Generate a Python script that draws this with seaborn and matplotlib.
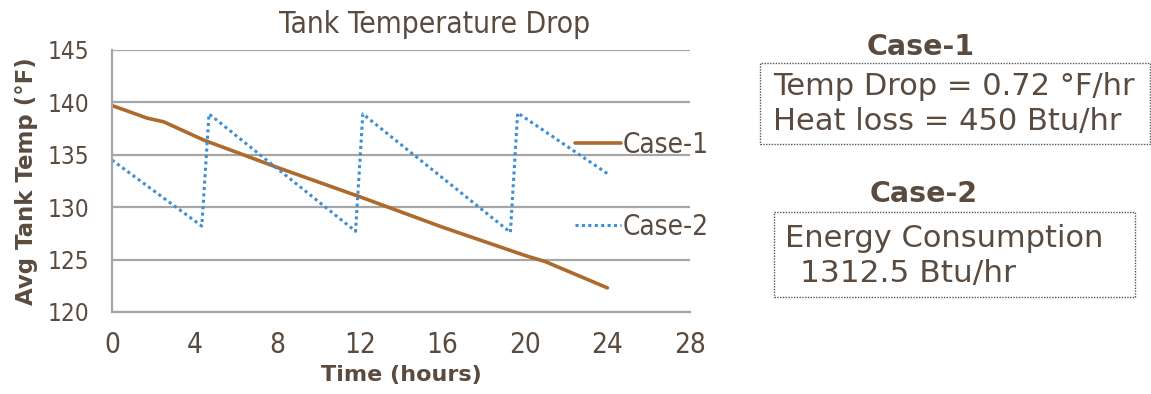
import matplotlib
matplotlib.use("Agg")
import matplotlib.pyplot as plt
import seaborn as sns
import pandas as pd
from matplotlib.patches import Rectangle

# ---- data ----
case1_t = [0, 1.0, 1.7, 2.5, 4.45, 8, 12, 16, 20, 21, 24]
case1_temp = [139.7, 139.0, 138.5, 138.15, 136.4, 133.8, 131.0, 128.1, 125.4, 124.8, 122.3]
case2_t = [0, 4.35, 4.7, 11.8, 12.15, 19.3, 19.65, 24]
case2_temp = [134.5, 128.2, 138.9, 127.7, 138.9, 127.6, 139.0, 133.2]
x_ticks = [0, 4, 8, 12, 16, 20, 24, 28]
y_ticks = [120, 125, 130, 135, 140, 145]

sns.set_theme(style="white")
plt.rcParams["font.family"] = ["DejaVu Sans"]

txt = "#5b4b3f"
grid_c = "#a6a6a6"
c1 = "#ad6a2b"
c2 = "#3b8fd4"
cond = dict(family="DejaVu Sans", stretch="condensed")

W, H = 1151, 394
L, R, T, B = 112, 690, 50, 312
fig = plt.figure(figsize=(W / 100, H / 100), dpi=100)
ax = fig.add_axes([L / W, 1 - B / H, (R - L) / W, (B - T) / H])

df1 = pd.DataFrame({"t": case1_t, "T": case1_temp})
df2 = pd.DataFrame({"t": case2_t, "T": case2_temp})
sns.lineplot(data=df1, x="t", y="T", ax=ax, color=c1, linewidth=2.6, label="Case-1")
sns.lineplot(data=df2, x="t", y="T", ax=ax, color=c2, linewidth=2.2,
             linestyle=(0, (1, 1.1)), label="Case-2")

ax.set_xlim(0, 28)
ax.set_ylim(120, 145)
ax.set_xticks(x_ticks)
ax.set_yticks(y_ticks)
ax.yaxis.grid(True, color=grid_c, linewidth=1.6)
ax.set_axisbelow(True)
for s in ["top", "right"]:
    ax.spines[s].set_visible(False)
for s in ["left", "bottom"]:
    ax.spines[s].set_color(grid_c)
    ax.spines[s].set_linewidth(1.6)
ax.tick_params(axis="y", direction="out", length=8, width=1.6, color=grid_c,
               labelcolor=txt, labelsize=17.5, pad=8.5)
ax.tick_params(axis="x", direction="out", length=5.5, width=1.6, color=grid_c,
               labelcolor=txt, labelsize=20, pad=8)
for lab in ax.get_xticklabels() + ax.get_yticklabels():
    lab.set_family("DejaVu Sans")
    lab.set_stretch("condensed")

# title
fig.text(435 / W, 1 - 33 / H, "Tank Temperature Drop", ha="center", va="baseline",
         fontsize=21.5, color=txt, **cond)

ax.set_xlabel("Time (hours)", fontsize=16, fontweight="bold", color=txt)
ax.xaxis.set_label_coords(0.5, (B - 365) / (B - T))
ax.set_ylabel("Avg Tank Temp (°F)", fontsize=16.5, fontweight="bold", color=txt)
ax.yaxis.set_label_coords((38 - L) / (R - L), 0.5)

leg = ax.legend(loc="upper left", bbox_to_anchor=(575 / W, 1 - 131 / H),
                bbox_transform=fig.transFigure, frameon=False, handlelength=1.65,
                handletextpad=0.08, labelspacing=1.95, borderpad=0, borderaxespad=0,
                prop={"family": "DejaVu Sans", "stretch": "condensed", "size": 20})
for t in leg.get_texts():
    t.set_color(txt)

# ---- right-side annotation boxes ----
fig.text(921 / W, 1 - 55 / H, "Case-1", ha="center", va="baseline", fontsize=20.5,
         fontweight="bold", color=txt)
fig.patches.append(Rectangle((760 / W, 1 - 144 / H), (1150 - 760) / W, (144 - 63) / H,
                             transform=fig.transFigure, fill=False, edgecolor="#555555",
                             linestyle=(0, (1, 1)), linewidth=1))
fig.text(773 / W, 1 - 95 / H, "Temp Drop = 0.72 °F/hr", ha="left", va="baseline",
         fontsize=22, color=txt)
fig.text(773 / W, 1 - 130 / H, "Heat loss = 450 Btu/hr", ha="left", va="baseline",
         fontsize=22, color=txt)

fig.text(924 / W, 1 - 202 / H, "Case-2", ha="center", va="baseline", fontsize=20.5,
         fontweight="bold", color=txt)
fig.patches.append(Rectangle((774 / W, 1 - 297 / H), (1135 - 774) / W, (297 - 212) / H,
                             transform=fig.transFigure, fill=False, edgecolor="#555555",
                             linestyle=(0, (1, 1)), linewidth=1))
fig.text(785 / W, 1 - 247 / H, "Energy Consumption", ha="left", va="baseline",
         fontsize=22, color=txt)
fig.text(800 / W, 1 - 282 / H, "1312.5 Btu/hr", ha="left", va="baseline",
         fontsize=22.5, color=txt)

fig.savefig("out.png", dpi=100)
